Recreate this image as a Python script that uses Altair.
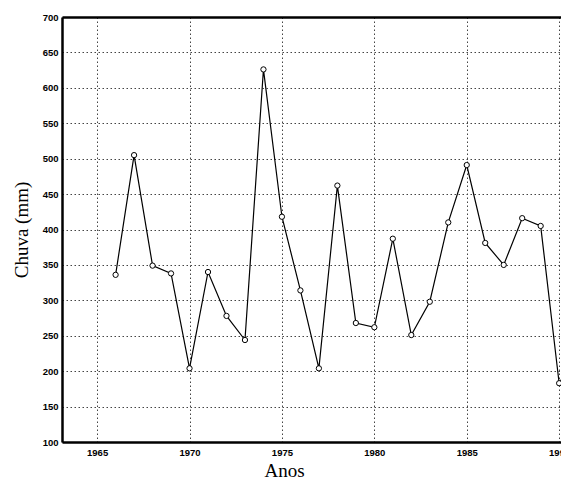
import altair as alt
import pandas as pd

years = [1966, 1967, 1968, 1969, 1970, 1971, 1972, 1973, 1974, 1975, 1976, 1977, 1978,
         1979, 1980, 1981, 1982, 1983, 1984, 1985, 1986, 1987, 1988, 1989, 1990, 1991]
chuva = [336, 505, 349, 338, 204, 340, 278, 244, 626, 418, 314, 204, 462,
         268, 262, 387, 251, 298, 410, 491, 381, 350, 416, 405, 183, 226]
x_ticks = [1965, 1970, 1975, 1980, 1985, 1990]
y_ticks = [100, 150, 200, 250, 300, 350, 400, 450, 500, 550, 600, 650, 700]

df = pd.DataFrame({"ano": years, "chuva": chuva})

xscale = alt.Scale(domain=[1963.1, 1990.1], nice=False, zero=False)
yscale = alt.Scale(domain=[100, 700], nice=False, zero=False)

x_axis = alt.Axis(values=x_ticks, format="d", title="Anos", grid=True,
                  gridColor="#444444", gridDash=[1.5, 2.5], gridWidth=1,
                  domainColor="black", domainWidth=2.5, ticks=False,
                  labelPadding=5, labelFont="Liberation Sans", labelFontSize=9.5,
                  labelFontWeight="bold", labelColor="black", labelFlush=False,
                  labelOverlap=False,
                  titleFont="Liberation Serif", titleFontSize=19, titleFontWeight="normal",
                  titleColor="black", titleX=222, titleY=34, titleBaseline="alphabetic",
                  titleAnchor="start", titleAlign="center")
y_axis = alt.Axis(values=y_ticks, title="Chuva (mm)", grid=True,
                  gridColor="#444444", gridDash=[1.5, 2.5], gridWidth=1,
                  domainColor="black", domainWidth=2.5, ticks=False,
                  labelPadding=4, labelFont="Liberation Sans", labelFontSize=9.5,
                  labelFontWeight="bold", labelColor="black", labelFlush=False,
                  labelOverlap=False,
                  titleFont="Liberation Serif", titleFontSize=19, titleFontWeight="normal",
                  titleColor="black", titleX=-41, titleBaseline="middle")

base = alt.Chart(df)

line = base.mark_line(color="black", strokeWidth=1.2, clip=True).encode(
    x=alt.X("ano:Q", scale=xscale, axis=x_axis),
    y=alt.Y("chuva:Q", scale=yscale, axis=y_axis),
)

pts = base.mark_point(shape="circle", filled=True, fill="white", stroke="black",
                      strokeWidth=1, size=28, opacity=1, clip=True).encode(
    x=alt.X("ano:Q", scale=xscale,
            axis=alt.Axis(orient="top", labels=False, ticks=False, grid=False,
                          title=None, domainColor="black", domainWidth=2.5)),
    y=alt.Y("chuva:Q", scale=yscale, axis=y_axis),
)

chart = alt.layer(line, pts).resolve_axis(x="independent").properties(
    width=499, height=425,
    autosize=alt.AutoSizeParams(type="none"),
    padding={"left": 54, "top": 9, "right": 0, "bottom": 37},
).configure_view(stroke=None).configure(background="white")

chart.save("out.html", embed_options={"renderer": "svg", "actions": False})
